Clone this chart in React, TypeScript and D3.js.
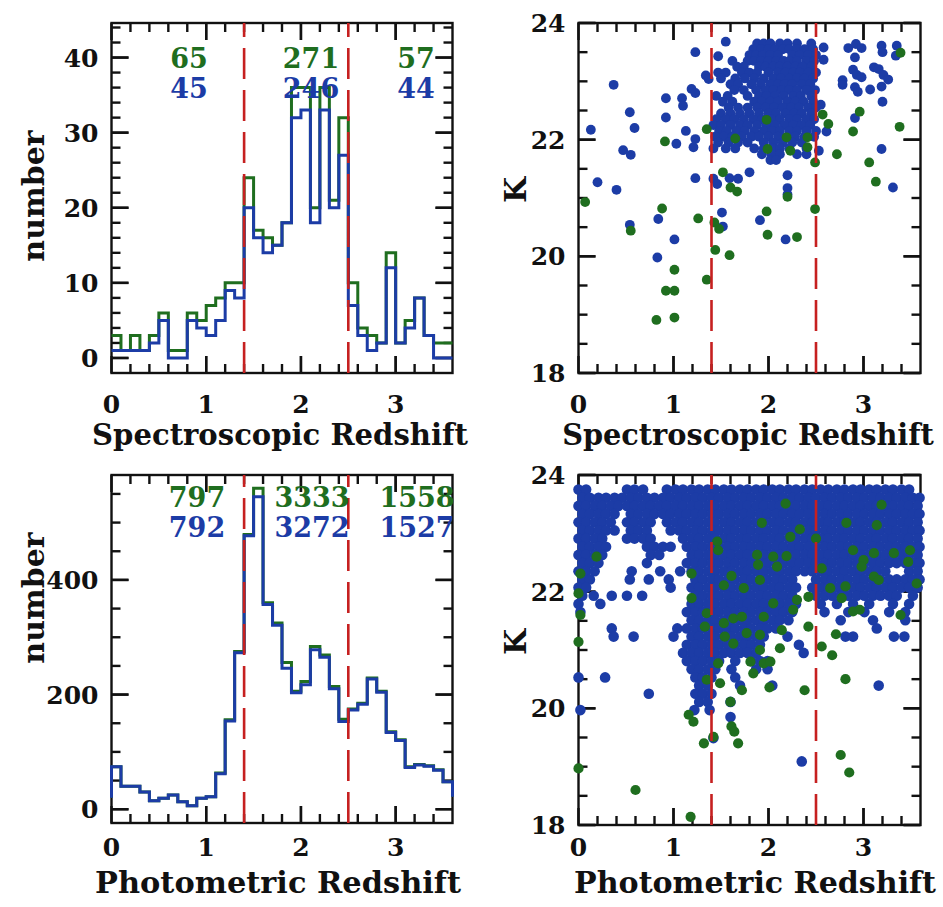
import React, { useLayoutEffect, useRef, useState } from "react";
import * as d3 from "d3";

// ---------- histogram counts, 0.1-wide redshift bins from 0 to 3.6 ----------
const binWidth = 0.1;
const specGreen = [3, 1, 3, 1, 3, 6, 1, 1, 6, 5, 7, 8, 10, 10, 24, 17, 16, 15, 18, 36, 36, 20, 36, 21, 32, 10, 4, 3, 2, 14, 2, 5, 8, 3, 2, 2];
const specBlue = [1, 1, 1, 1, 2, 5, 0, 0, 5, 4, 3, 5, 9, 8, 20, 16, 14, 15, 18, 32, 33, 18, 33, 20, 27, 7, 3, 1, 2, 12, 2, 4, 8, 3, 0, 0];
const photGreen = [74, 40, 40, 30, 15, 19, 25, 13, 6, 19, 22, 63, 156, 275, 479, 560, 360, 325, 256, 206, 223, 284, 269, 214, 157, 175, 185, 229, 206, 135, 121, 74, 78, 76, 69, 48];
const photBlue = [74, 40, 40, 30, 15, 19, 25, 13, 6, 19, 22, 62, 154, 273, 477, 545, 357, 321, 246, 203, 217, 278, 265, 210, 153, 173, 183, 227, 204, 134, 120, 73, 77, 75, 68, 48];
// counts in the bins just outside the plotted range (z<0 and z>3.6)
const photOuterBins = [20, 22];

// counts per redshift interval: z<1.4, 1.4-2.5, z>2.5
const specCountGreen = [65, 271, 57];
const specCountBlue = [45, 246, 44];
const photCountGreen = [797, 3333, 1558];
const photCountBlue = [792, 3272, 1527];

const zCuts = [1.4, 2.5];

// ---------- K magnitude vs spectroscopic redshift ----------
const specBlueIsolated: [number, number][] = [
  [0.13, 22.17], [0.2, 21.27], [0.37, 22.94], [0.4, 21.14], [0.54, 22.47], [0.59, 22.2], [0.47, 21.82], [0.55, 21.74],
  [0.54, 20.54], [0.84, 20.64], [0.83, 19.98], [1.01, 20.29], [0.92, 22.71], [0.92, 22.38], [1.03, 21.93], [1.09, 22.71],
  [1.1, 22.58], [1.13, 22.15], [1.23, 23.5], [1.19, 22.87], [1.23, 22.8], [1.23, 22.01], [1.21, 21.87], [1.23, 21.34],
  [1.34, 23.1], [1.37, 23.04], [1.47, 23.43], [1.55, 23.68], [1.42, 21.33], [1.46, 21.24], [1.59, 21.34], [1.68, 21.33],
  [1.51, 20.75], [1.52, 20.51], [1.91, 20.62], [2.18, 20.29], [1.8, 21.44], [2.2, 21.39], [2.2, 21.17], [2.2, 21.06],
  [2.53, 21.81], [2.58, 23.37], [2.61, 22.14], [2.58, 23.58], [2.78, 23.02], [2.78, 22.94], [2.84, 23.57], [2.92, 23.64],
  [2.98, 23.57], [2.91, 23.41], [2.89, 23.2], [2.93, 23.11], [2.98, 23.07], [2.91, 22.9], [2.94, 22.82], [2.91, 22.37],
  [3.07, 22.86], [3.11, 23.24], [3.16, 23.21], [3.21, 23.11], [3.26, 23.03], [3.19, 22.91], [3.2, 22.65], [3.19, 23.61],
  [3.2, 23.5], [3.35, 23.61], [3.34, 23.44], [3.19, 21.84], [3.31, 21.18], [2.55, 22.6],
];
// dense group: K value, then redshifts (in units of 0.01)
const specBlueRows: [number, string][] = [
  [23.65, "188 195 202 212 220 230 245"],
  [23.55, "184 192 200 207 215 222 230 238 247"],
  [23.45, "180 187 194 202 210 225 233 242 250"],
  [23.35, "162 178 185 192 200 208 216 222 230 240 248"],
  [23.25, "167 174 190 197 205 212 220 228 236 245"],
  [23.15, "147 155 172 180 188 200 210 218 226 233 242 250"],
  [23.05, "150 165 175 185 195 205 213 222 230 238 247"],
  [22.95, "160 168 182 192 202 210 217 225 235 244"],
  [22.85, "164 174 187 197 205 214 222 230 240 249"],
  [22.75, "145 157 178 190 198 207 216 226 234 245"],
  [22.65, "152 162 185 193 202 210 220 228 237 247"],
  [22.55, "158 168 178 188 197 206 215 224 232 242 250"],
  [22.45, "150 160 170 180 190 200 208 218 227 235 245"],
  [22.35, "145 155 164 174 184 193 203 212 222 230 240 248"],
  [22.25, "142 150 160 170 178 188 198 207 217 226 235 244"],
  [22.15, "148 156 166 175 185 195 204 212 222 230 240 250"],
  [22.05, "144 153 162 172 182 190 200 210 220 228 238 248"],
  [21.95, "147 158 168 178 195 205 215 225 235"],
  [21.85, "142 155 165 185 195 205 212 222 240"],
  [21.75, "193 203 212 230 240"],
  [21.65, "202 208"],
];
const specGreenPts: [number, number][] = [
  [0.07, 20.93], [0.55, 20.44], [0.91, 21.97], [0.88, 20.82], [0.92, 19.41], [1.01, 19.41], [1.01, 19.77], [0.82, 18.91],
  [1.01, 18.95], [1.26, 20.65], [1.35, 19.6], [1.35, 22.18], [1.43, 20.58], [1.48, 20.47], [1.44, 20.11], [1.59, 20.02],
  [1.52, 21.44], [1.6, 21.18], [1.67, 21.11], [1.65, 22.02], [1.98, 20.77], [1.99, 20.37], [2.3, 20.33], [2.2, 21.02],
  [1.98, 22.34], [1.99, 21.84], [2.23, 21.81], [2.41, 22.04], [2.41, 21.87], [2.49, 21.61], [2.49, 20.81], [2.57, 22.43],
  [2.63, 22.27], [2.72, 21.75], [2.96, 22.48], [2.89, 22.14], [3.06, 21.61], [3.13, 21.28], [3.38, 22.22], [3.39, 23.49],
  [2.19, 22.04],
];

// ---------- K magnitude vs photometric redshift ----------
const photBlueRows: [number, string][] = [
  [23.75, "0 8 51 59 68 93 102 110 119 127 136 144 153 161 170 178 187 195 204 212 221 229 238 246 255 263 272 280 289 297 306 314 323 331 340 348"],
  [23.61, "4 12 21 29 38 46 55 63 72 80 89 97 106 114 123 131 140 148 157 165 174 182 191 199 208 216 225 233 242 250 259 267 276 284 293 301 310 318 327 335 344 352 359"],
  [23.47, "0 8 17 25 34 42 51 59 68 76 85 93 102 110 119 127 136 144 153 161 170 178 187 195 204 212 221 229 238 246 255 263 272 280 289 297 306 314 323 331 340 348 357"],
  [23.33, "4 12 21 29 38 55 63 72 80 89 97 106 114 123 131 140 148 157 165 174 182 191 199 208 216 225 233 242 250 259 267 276 284 293 301 310 318 327 335 344 352 359"],
  [23.19, "0 8 17 25 34 51 59 68 76 93 102 110 119 127 136 144 153 161 170 178 187 195 204 212 221 229 238 246 255 263 272 280 289 297 306 314 323 331 340 348 357"],
  [23.05, "4 12 21 29 38 55 63 72 97 106 114 123 131 140 148 157 165 174 182 191 199 208 216 225 233 242 250 259 267 276 284 293 301 310 318 327 335 344 352 359"],
  [22.91, "0 8 17 25 51 59 68 76 110 119 127 136 144 153 161 170 178 187 195 204 212 221 229 238 246 255 263 272 280 289 297 306 314 323 331 340 348 357"],
  [22.77, "4 12 21 29 72 80 89 97 114 123 131 140 148 157 165 174 182 191 199 208 216 225 233 242 250 259 267 276 284 293 301 310 318 327 335 344 352 359"],
  [22.63, "0 8 17 25 76 85 119 127 136 144 153 161 170 178 187 195 204 212 221 229 238 246 255 263 272 280 289 297 306 314 323 331 340 348 357"],
  [22.49, "4 12 21 72 114 123 131 140 148 157 165 174 182 191 199 208 216 225 233 242 250 259 267 276 284 293 301 310 318 327 335 344 352 359"],
  [22.35, "0 8 17 56 86 107 119 127 136 144 153 161 170 178 187 195 204 212 221 229 238 246 255 263 272 280 289 297 306 314 323 348 357"],
  [22.21, "4 12 54 74 95 123 131 140 148 157 165 174 182 191 199 208 216 225 250 259 267 276 284 293 301 310 318 327 335 344 352 359"],
  [22.07, "0 8 97 119 127 136 144 153 161 170 178 187 195 204 212 221 229 246 255 263 272 280 289 297 306 314 323 331 340 348 357"],
  [21.93, "4 16 35 51 67 123 131 140 148 157 165 174 182 191 199 208 216 225 250 259 267 276 284 293 301 310 318 327 335 352"],
  [21.79, "0 23 119 127 136 144 153 161 170 178 187 195 204 212 221 229 255 272 289 306 331 348"],
  [21.65, "2 114 123 131 140 148 157 165 174 182 191 199 208 216 225 259 284 301 327 344"],
  [21.51, "119 127 136 144 153 161 170 178 187 195 204 212 221 276 310 344"],
  [21.37, "35 104 114 123 131 140 148 157 165 174 182 191 199 208 314"],
  [21.23, "37 58 100 119 127 136 144 153 161 170 178 187 195 220 281 289 332 343"],
  [21.09, "114 123 131 140 148 157 165 174 182 191 232"],
  [20.95, "110 119 127 136 144 153 161 170 178 187 237"],
  [20.81, "114 123 131 140 148 165 182 191 199"],
  [20.67, "119 127 136 144 161 187 199"],
  [20.53, "0 28 123 131 140 165"],
  [20.39, "127 136 170 204 316"],
  [20.25, "74 123 131 140"],
  [20.11, "127 136 160"],
  [19.97, "2 122 138"],
  [19.85, "160"],
  [19.49, "142"],
  [19.09, "235"],
];
const photGreenPts: [number, number][] = [
  [2.18, 23.51], [1.93, 23.18], [2.33, 23.07], [2.23, 22.94], [3.19, 23.49], [3.14, 23.14], [2.82, 23.18], [2.5, 22.91],
  [1.46, 22.86], [1.47, 22.71], [1.88, 22.63], [2.05, 22.6], [2.19, 22.61], [1.89, 22.46], [2.09, 22.43], [1.91, 22.2],
  [1.61, 22.27], [1.74, 22.06], [1.53, 22.11], [1.19, 22.31], [1.19, 21.89], [1.35, 21.63], [1.33, 21.4], [1.53, 21.46],
  [1.63, 21.54], [1.72, 21.57], [1.54, 21.23], [1.63, 21.11], [1.77, 21.29], [1.91, 21.0], [1.95, 20.77], [2.02, 20.8],
  [1.84, 20.6], [1.95, 21.57], [2.05, 21.8], [2.3, 21.86], [2.42, 21.91], [2.42, 21.4], [2.26, 21.69], [2.14, 21.34],
  [2.12, 21.03], [1.91, 21.26], [1.81, 20.8], [1.47, 20.77], [1.35, 20.49], [1.49, 20.43], [1.72, 20.31], [1.6, 20.11],
  [2.01, 20.36], [2.38, 20.31], [2.56, 21.06], [2.67, 20.91], [2.71, 21.27], [2.81, 20.5], [2.76, 19.2], [2.85, 18.9],
  [1.16, 19.89], [1.21, 19.77], [1.32, 19.4], [1.42, 19.51], [1.61, 19.69], [1.64, 19.6], [1.68, 19.4], [0.6, 18.6],
  [1.18, 18.14], [0.0, 18.97], [0.0, 21.14], [0.02, 21.6], [0.0, 21.97], [0.02, 22.31], [0.19, 22.6], [3.49, 22.71],
  [3.47, 22.51], [3.56, 22.14], [3.32, 22.66], [3.11, 22.66], [3.0, 22.54], [2.98, 22.43], [3.11, 22.26], [3.16, 22.2],
  [2.89, 22.71], [2.81, 22.09], [2.65, 22.06], [2.56, 22.4], [2.77, 21.89], [2.89, 21.66], [3.39, 21.6], [2.96, 21.69],
];

// ---------- tick values ----------
const zMajor = [0, 1, 2, 3];
const zMinor = d3.range(0.2, 3.6, 0.2);
const specYMajor = [0, 10, 20, 30, 40];
const specYMinor = d3.range(0, 45, 2);
const photYMajor = [0, 200, 400];
const photYMinor = d3.range(0, 583, 50);
const kMajor = [18, 20, 22, 24];
const kMinor = d3.range(18, 24.01, 0.5);

const GREEN = "#1f6e1f";
const BLUE = "#1c3ca6";
const RED = "#c62020";
const FONT = "'DejaVu Serif', serif";

const rowsToPoints = (rows: [number, string][]) =>
  rows.flatMap(([k, s]) => s.split(" ").map((v) => [+v / 100, k] as [number, number]));

type Scale = d3.ScaleLinear<number, number>;

function Frame({ x, y, xMajor, xMinor, yMajor, yMinor }: { x: Scale; y: Scale; xMajor: number[]; xMinor: number[]; yMajor: number[]; yMinor: number[] }) {
  const [x0, x1] = x.range();
  const [yb, yt] = y.range();
  const MAJ = 17;
  const MIN = 9;
  const isMaj = (v: number, list: number[]) => list.some((m) => Math.abs(m - v) < 1e-6);
  const lines: JSX.Element[] = [];
  xMinor.concat(xMajor).forEach((v, i) => {
    const L = isMaj(v, xMajor) ? MAJ : MIN;
    const px = x(v);
    lines.push(<line key={`xb${i}`} x1={px} x2={px} y1={yb} y2={yb - L} />);
    lines.push(<line key={`xt${i}`} x1={px} x2={px} y1={yt} y2={yt + L} />);
  });
  yMinor.concat(yMajor).forEach((v, i) => {
    const L = isMaj(v, yMajor) ? MAJ : MIN;
    const py = y(v);
    lines.push(<line key={`yl${i}`} x1={x0} x2={x0 + L} y1={py} y2={py} />);
    lines.push(<line key={`yr${i}`} x1={x1} x2={x1 - L} y1={py} y2={py} />);
  });
  return (
    <g stroke="#111" strokeWidth={2.4} fill="none">
      <rect x={x0} y={yt} width={x1 - x0} height={yb - yt} />
      {lines}
    </g>
  );
}

function TickLabels({ x, y, xMajor, yMajor, xBase }: { x: Scale; y: Scale; xMajor: number[]; yMajor: number[]; xBase: number }) {
  const [x0] = x.range();
  return (
    <g fontFamily={FONT} fontWeight="bold" fontSize={25} fill="#111">
      {xMajor.map((v) => (
        <text key={`x${v}`} x={x(v)} y={xBase} textAnchor="middle">{v}</text>
      ))}
      {yMajor.map((v) => (
        <text key={`y${v}`} x={x0 - 13} y={y(v) + 9} textAnchor="end">{v}</text>
      ))}
    </g>
  );
}

function CutLines({ x, y }: { x: Scale; y: Scale }) {
  const [yb, yt] = y.range();
  return (
    <g stroke={RED} strokeWidth={2.6} strokeDasharray="31 11">
      {zCuts.map((z) => (
        <line key={z} x1={x(z)} x2={x(z)} y1={yb} y2={yt} />
      ))}
    </g>
  );
}

function histPath(x: Scale, y: Scale, counts: number[], lead: number, tail: number) {
  const pts: [number, number][] = [[0, lead]];
  counts.forEach((c, i) => pts.push([i * binWidth, c]));
  const zEnd = counts.length * binWidth;
  pts.push([zEnd, counts[counts.length - 1]]);
  pts.push([zEnd, tail]);
  return d3.line<[number, number]>().x((d) => x(d[0])).y((d) => y(d[1])).curve(d3.curveStepAfter)(pts) ?? "";
}

function Dots({ x, y, pts, color, r }: { x: Scale; y: Scale; pts: [number, number][]; color: string; r: number }) {
  return (
    <g fill={color}>
      {pts.map((p, i) => (
        <circle key={i} cx={x(p[0])} cy={y(p[1])} r={r} />
      ))}
    </g>
  );
}

function Counts({ xs, base, values, color }: { xs: number[]; base: number; values: number[]; color: string }) {
  return (
    <g fontFamily={FONT} fontWeight="bold" fontSize={27} fill={color} textAnchor="middle">
      {values.map((v, i) => (
        <text key={i} x={xs[i]} y={base}>{v}</text>
      ))}
    </g>
  );
}

// Axis title; horizontal titles are squeezed to a given width by measuring the rendered text.
function Title({ x, y, text, width, rotate }: { x: number; y: number; text: string; width?: number; rotate?: boolean }) {
  const ref = useRef<SVGTextElement>(null);
  const [sx, setSx] = useState(1);
  useLayoutEffect(() => {
    if (!width || !ref.current) return;
    const natural = ref.current.getComputedTextLength();
    if (natural > 0) setSx(width / natural);
  }, [width, text]);
  const transform = rotate ? `translate(${x} ${y}) rotate(-90)` : `translate(${x} ${y}) scale(${sx} 1)`;
  return (
    <text
      ref={ref}
      x={0}
      y={0}
      textAnchor="middle"
      fontFamily={FONT}
      fontWeight="bold"
      fontSize={30}
      fill="#111"
      transform={transform}
    >
      {text}
    </text>
  );
}

export default function App() {
  const xL = d3.scaleLinear([0, 3.6], [111.5, 452.5]);
  const xR = d3.scaleLinear([0, 3.6], [578.5, 920.5]);
  const ySpec = d3.scaleLinear([-2, 44.6], [373, 23]);
  const yPhot = d3.scaleLinear([-24, 583], [823, 475]);
  const yKTop = d3.scaleLinear([18, 24], [373, 23]);
  const yKBot = d3.scaleLinear([18, 24], [825, 475]);

  const specBlueAll = specBlueIsolated.concat(rowsToPoints(specBlueRows));
  const photBlueAll = rowsToPoints(photBlueRows);

  return (
    <svg width={943} height={907} style={{ position: "absolute", left: 0, top: 0 }}>
      <rect width={943} height={907} fill="#fff" />

      {/* number vs spectroscopic redshift */}
      <Frame x={xL} y={ySpec} xMajor={zMajor} xMinor={zMinor} yMajor={specYMajor} yMinor={specYMinor} />
      <g fill="none" strokeWidth={3}>
        <path d={histPath(xL, ySpec, specGreen, specGreen[0], specGreen[specGreen.length - 1])} stroke={GREEN} />
        <path d={histPath(xL, ySpec, specBlue, specBlue[0], specBlue[specBlue.length - 1])} stroke={BLUE} />
      </g>
      <CutLines x={xL} y={ySpec} />
      <Counts xs={[189, 311, 416]} base={68} values={specCountGreen} color={GREEN} />
      <Counts xs={[189, 311, 416]} base={98} values={specCountBlue} color={BLUE} />
      <TickLabels x={xL} y={ySpec} xMajor={zMajor} yMajor={specYMajor} xBase={413} />
      <Title x={280} y={445} text="Spectroscopic Redshift" width={376} />
      <Title x={44} y={196} text="number" rotate />

      {/* K vs spectroscopic redshift */}
      <Frame x={xR} y={yKTop} xMajor={zMajor} xMinor={zMinor} yMajor={kMajor} yMinor={kMinor} />
      <Dots x={xR} y={yKTop} pts={specBlueAll} color={BLUE} r={4.9} />
      <Dots x={xR} y={yKTop} pts={specGreenPts} color={GREEN} r={4.9} />
      <CutLines x={xR} y={yKTop} />
      <TickLabels x={xR} y={yKTop} xMajor={zMajor} yMajor={kMajor} xBase={413} />
      <Title x={748} y={445} text="Spectroscopic Redshift" width={372} />
      <Title x={526} y={190} text="K" rotate />

      {/* number vs photometric redshift */}
      <Frame x={xL} y={yPhot} xMajor={zMajor} xMinor={zMinor} yMajor={photYMajor} yMinor={photYMinor} />
      <g fill="none" strokeWidth={3}>
        <path d={histPath(xL, yPhot, photGreen, photOuterBins[0], photOuterBins[1])} stroke={GREEN} />
        <path d={histPath(xL, yPhot, photBlue, photOuterBins[0], photOuterBins[1])} stroke={BLUE} />
      </g>
      <CutLines x={xL} y={yPhot} />
      <Counts xs={[197, 312, 417]} base={507} values={photCountGreen} color={GREEN} />
      <Counts xs={[197, 312, 417]} base={537} values={photCountBlue} color={BLUE} />
      <TickLabels x={xL} y={yPhot} xMajor={zMajor} yMajor={photYMajor} xBase={856} />
      <Title x={278} y={893} text="Photometric Redshift" width={366} />
      <Title x={44} y={598} text="number" rotate />

      {/* K vs photometric redshift */}
      <Frame x={xR} y={yKBot} xMajor={zMajor} xMinor={zMinor} yMajor={kMajor} yMinor={kMinor} />
      <Dots x={xR} y={yKBot} pts={photBlueAll} color={BLUE} r={5.3} />
      <Dots x={xR} y={yKBot} pts={photGreenPts} color={GREEN} r={5.1} />
      <CutLines x={xR} y={yKBot} />
      <TickLabels x={xR} y={yKBot} xMajor={zMajor} yMajor={kMajor} xBase={856} />
      <Title x={755} y={893} text="Photometric Redshift" width={362} />
      <Title x={526} y={642} text="K" rotate />
    </svg>
  );
}
